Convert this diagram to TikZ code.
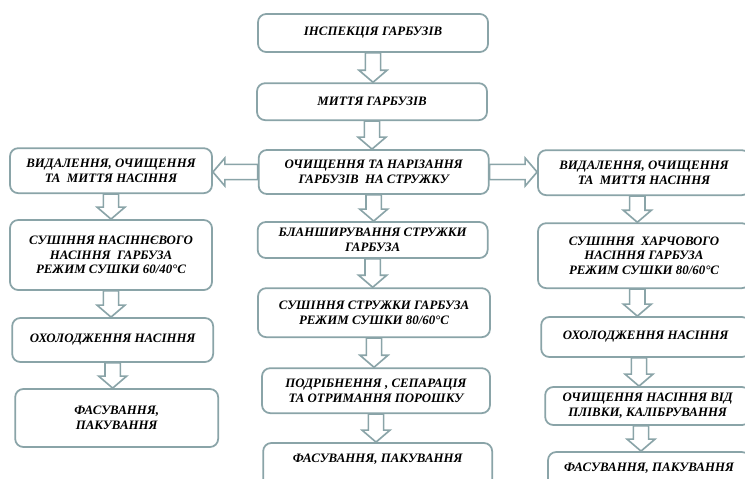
\documentclass[tikz,border=0pt]{standalone}
\usepackage{fontspec}
\setmainfont{Liberation Serif}
\usepackage{tikz}
\usetikzlibrary{calc}
\usepackage{xcolor}
\definecolor{boxgray}{RGB}{138,164,168}

\tikzset{
  stage/.style={rectangle, rounded corners=7pt, draw=boxgray, line width=1.5pt,
        fill=white, align=center, inner sep=2pt,
        font=\fontsize{11}{12.5}\selectfont\bfseries\itshape},
  hollow/.style={draw=boxgray, line width=1.4pt, fill=white,
        to path={let \p1=(\tikztostart), \p2=(\tikztotarget),
                     \p3=($(\p2)!0.36cm!(\p1)$) in
          ($(\p1)!0.23cm!90:(\p2)$) -- ($(\p3)!0.23cm!-90:(\p1)$)
          -- ($(\p3)!0.42cm!-90:(\p1)$) -- (\p2)
          -- ($(\p3)!0.42cm!90:(\p1)$) -- ($(\p3)!0.23cm!90:(\p1)$)
          -- ($(\p1)!0.23cm!-90:(\p2)$) -- cycle}}
}

\begin{document}
\begin{tikzpicture}
  \useasboundingbox (0,0) rectangle (22.35,-14.34);
  \clip (0,0) rectangle (22.35,-14.34);

  % main line: pumpkin flesh
  \node[stage, minimum width=6.9cm, minimum height=1.14cm] (insp) at (11.19,-0.99)
    {ІНСПЕКЦІЯ ГАРБУЗІВ};
  \node[stage, minimum width=6.9cm, minimum height=1.11cm] (wash) at (11.16,-3.05)
    {МИТТЯ ГАРБУЗІВ};
  \node[stage, minimum width=6.9cm, minimum height=1.32cm] (peel) at (11.21,-5.16)
    {ОЧИЩЕННЯ ТА НАРІЗАННЯ \\ ГАРБУЗІВ\ \ НА СТРУЖКУ};
  \node[stage, minimum width=6.9cm, minimum height=1.08cm] (blanch) at (11.18,-7.2)
    {БЛАНШИРУВАННЯ СТРУЖКИ \\ ГАРБУЗА};
  \node[stage, minimum width=6.96cm, minimum height=1.47cm] (drychip) at (11.22,-9.38)
    {СУШІННЯ СТРУЖКИ ГАРБУЗА \\ РЕЖИМ СУШКИ 80/60°С};
  \node[stage, minimum width=6.84cm, minimum height=1.35cm] (grind) at (11.28,-11.72)
    {ПОДРІБНЕННЯ , СЕПАРАЦІЯ \\ ТА ОТРИМАННЯ ПОРОШКУ};
  \node[stage, minimum width=6.87cm, minimum height=1.5cm] (packc) at (11.33,-14.04)
    {ФАСУВАННЯ, ПАКУВАННЯ \\ \strut};

  % left line: seeds for sowing
  \node[stage, minimum width=6.06cm, minimum height=1.35cm] (lsep) at (3.33,-5.12)
    {ВИДАЛЕННЯ, ОЧИЩЕННЯ \\ ТА\ \ МИТТЯ НАСІННЯ};
  \node[stage, minimum width=6.06cm, minimum height=2.1cm] (ldry) at (3.33,-7.65)
    {СУШІННЯ НАСІННЄВОГО \\ НАСІННЯ\ \ ГАРБУЗА \\ РЕЖИМ СУШКИ 60/40°С};
  \node[stage, minimum width=6.03cm, minimum height=1.32cm] (lcool) at (3.38,-10.2)
    {ОХОЛОДЖЕННЯ НАСІННЯ};
  \node[stage, minimum width=6.09cm, minimum height=1.74cm] (lpack) at (3.5,-12.54)
    {ФАСУВАННЯ, \\ ПАКУВАННЯ};

  % right line: food seeds
  \node[stage, minimum width=6.36cm, minimum height=1.35cm] (rsep) at (19.32,-5.18)
    {ВИДАЛЕННЯ, ОЧИЩЕННЯ \\ ТА\ \ МИТТЯ НАСІННЯ};
  \node[stage, minimum width=6.36cm, minimum height=1.95cm] (rdry) at (19.32,-7.67)
    {СУШІННЯ\ \ ХАРЧОВОГО \\ НАСІННЯ ГАРБУЗА \\ РЕЖИМ СУШКИ 80/60°С};
  \node[stage, minimum width=6.27cm, minimum height=1.2cm] (rcool) at (19.37,-10.11)
    {ОХОЛОДЖЕННЯ НАСІННЯ};
  \node[stage, minimum width=6.15cm, minimum height=1.14cm] (rpeel) at (19.43,-12.18)
    {ОЧИЩЕННЯ НАСІННЯ ВІД \\ ПЛІВКИ, КАЛІБРУВАННЯ};
  \node[stage, minimum width=6.06cm, minimum height=1.5cm] (rpack) at (19.47,-14.31)
    {ФАСУВАННЯ, ПАКУВАННЯ \\ \strut};

  % block arrows
  \draw[hollow] (insp.south) to (insp.south |- wash.north);
  \draw[hollow] (wash.south) to (wash.south |- peel.north);
  \draw[hollow] (peel.south) to (peel.south |- blanch.north);
  \draw[hollow] (blanch.south) to (blanch.south |- drychip.north);
  \draw[hollow] (drychip.south) to (drychip.south |- grind.north);
  \draw[hollow] (grind.south) to (grind.south |- packc.north);

  \draw[hollow] (peel.west) to (peel.west -| lsep.east);
  \draw[hollow] (peel.east) to (peel.east -| rsep.west);

  \draw[hollow] (lsep.south) to (lsep.south |- ldry.north);
  \draw[hollow] (ldry.south) to (ldry.south |- lcool.north);
  \draw[hollow] (lcool.south) to (lcool.south |- lpack.north);

  \draw[hollow] ([xshift=-0.2cm]rsep.south) to ([xshift=-0.2cm]rsep.south |- rdry.north);
  \draw[hollow] ([xshift=-0.2cm]rdry.south) to ([xshift=-0.2cm]rdry.south |- rcool.north);
  \draw[hollow] ([xshift=-0.2cm]rcool.south) to ([xshift=-0.2cm]rcool.south |- rpeel.north);
  \draw[hollow] ([xshift=-0.2cm]rpeel.south) to ([xshift=-0.2cm]rpeel.south |- rpack.north);
\end{tikzpicture}
\end{document}
